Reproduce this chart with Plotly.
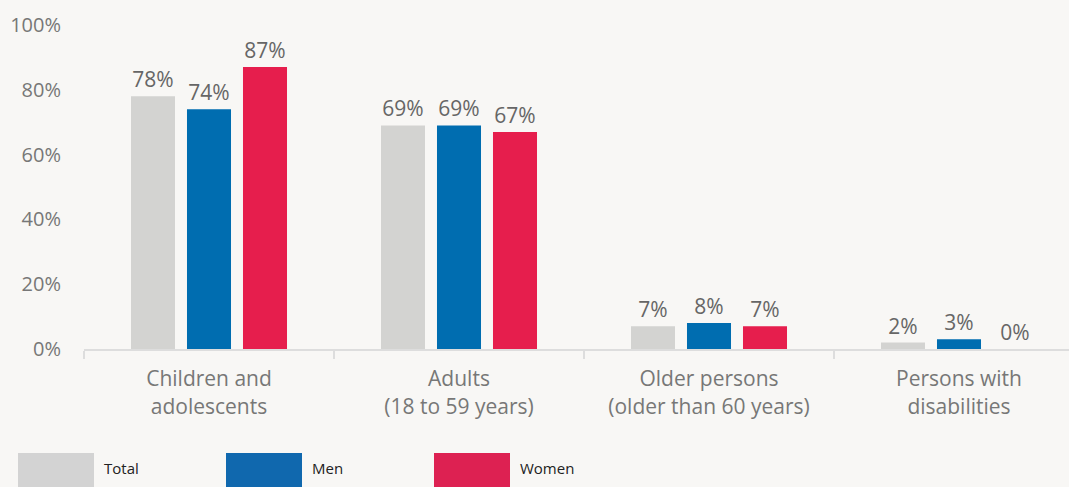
import plotly.graph_objects as go

categories = ["Children and<br>adolescents", "Adults<br>(18 to 59 years)",
              "Older persons<br>(older than 60 years)", "Persons with<br>disabilities"]
series_names = ["Total", "Men", "Women"]
total = [78, 69, 7, 2]
men = [74, 69, 8, 3]
women = [87, 67, 7, 0]
y_ticks = [0, 20, 40, 60, 80, 100]
y_tick_labels = ["0%", "20%", "40%", "60%", "80%", "100%"]

bar_colors = ["#D3D3D1", "#006DB0", "#E61E4D"]
legend_colors = ["#D3D3D3", "#1068AE", "#DD2152"]

W, H = 1069, 487
ML, MR, MT, MB = 84, 0, 25, 138
PW, PH = W - ML - MR, H - MT - MB
FONT = "Open Sans"
BG = "#F8F7F5"

fig = go.Figure()
for name, vals, col in zip(series_names, [total, men, women], bar_colors):
    fig.add_trace(go.Bar(
        x=categories, y=vals, name=name, marker=dict(color=col, line=dict(width=0)),
        text=[f"{v}%" for v in vals], textposition="outside", cliponaxis=False,
        textfont=dict(family=FONT, size=21, color="#666666"),
        showlegend=False,
    ))

def px_x(p):
    return (p - ML) / PW

def px_y(p):
    return (MT + PH - p) / PH

shapes, annotations = [], []
legend_x = [18, 226, 434]
for name, col, lx in zip(series_names, legend_colors, legend_x):
    shapes.append(dict(type="rect", xref="paper", yref="paper",
                       x0=px_x(lx), x1=px_x(lx + 76), y0=px_y(453), y1=px_y(492),
                       fillcolor=col, line=dict(width=0), layer="above"))
    annotations.append(dict(xref="paper", yref="paper", x=px_x(lx + 84), y=px_y(468),
                            text=name, showarrow=False, xanchor="left", yanchor="middle",
                            font=dict(family=FONT, size=15, color="#222222")))

fig.update_layout(
    width=W, height=H,
    margin=dict(l=ML, r=MR, t=MT, b=MB),
    paper_bgcolor=BG, plot_bgcolor=BG,
    barmode="group", bargap=0.328, bargroupgap=0.214,
    font=dict(family=FONT, color="#777777"),
    shapes=shapes, annotations=annotations,
    uniformtext=dict(mode=False),
)
fig.update_xaxes(
    range=[-0.5, -0.5 + PW / 250], showgrid=False, showline=True, linecolor="#DDDDDD", linewidth=2,
    ticks="outside", tickson="boundaries", ticklen=8, tickcolor="#DDDDDD", tickwidth=2,
    tickfont=dict(family=FONT, size=21, color="#777777"), ticklabelstandoff=10,
    fixedrange=True,
)
fig.update_yaxes(
    range=[0, 100], tickvals=y_ticks, ticktext=y_tick_labels, showgrid=False, zeroline=False,
    showline=False, tickfont=dict(family=FONT, size=20, color="#777777"), ticklabelstandoff=22,
    ticks="",
)
fig.write_html(
    "out.html",
    config={"displayModeBar": False},
    post_script="document.body.style.margin='0';document.body.style.background='%s';" % BG,
)
